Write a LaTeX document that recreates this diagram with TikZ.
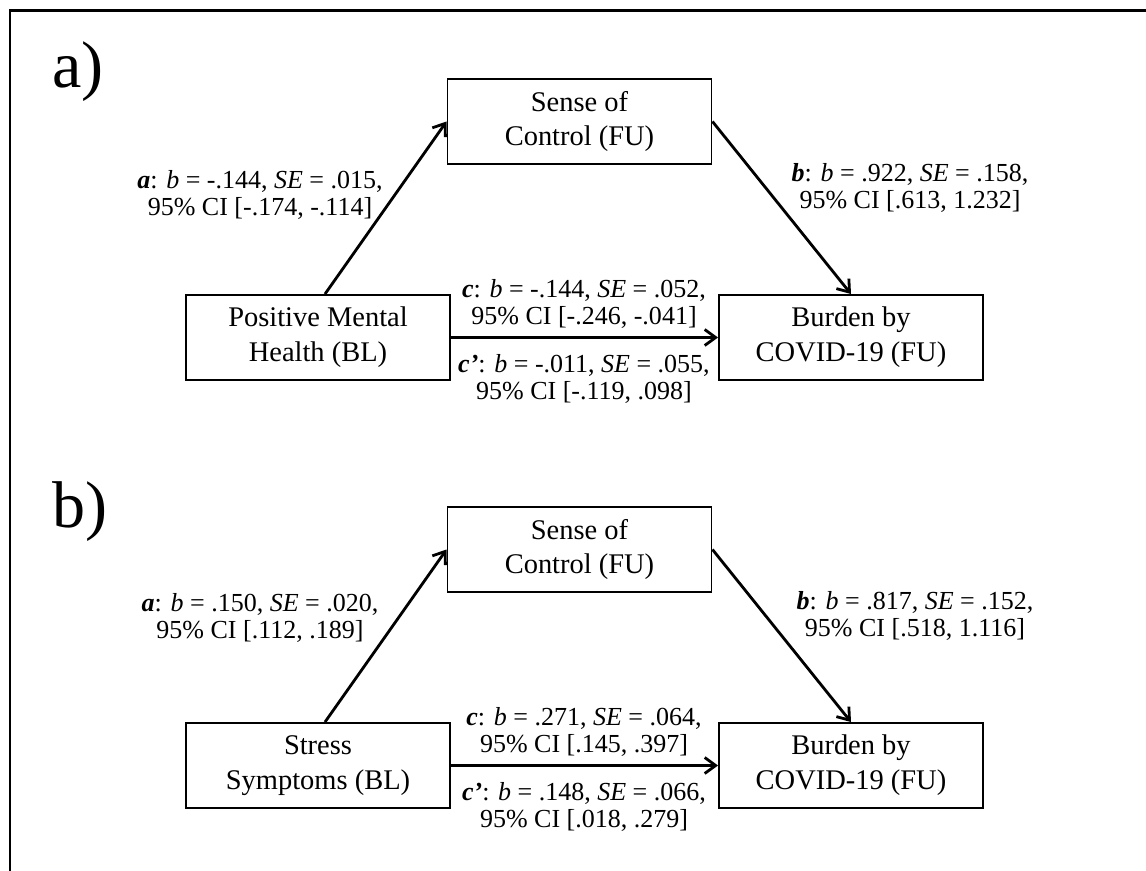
\documentclass[tikz,border=0pt]{standalone}
\usepackage{fontspec}
\setmainfont{Liberation Serif}
\usetikzlibrary{arrows.meta}
\tikzset{
  varbox/.style={draw, line width=1.1pt, minimum width=5.28cm, minimum height=1.7cm,
    inner sep=0pt, align=center, font=\fontsize{16.2}{19.9}\selectfont},
  coef/.style={inner sep=0pt, align=center, font=\fontsize{14.8}{15.9}\selectfont},
  pathline/.style={line width=1.6pt, -{Straight Barb[length=0.22cm,width=0.32cm,line width=1.6pt]}},
  panel/.style={anchor=base west, inner sep=0pt, font=\fontsize{37.6}{40}\selectfont}
}
\newcommand{\bi}[1]{\textbf{\textit{#1}}}

\begin{document}
\begin{tikzpicture}[x=0.02cm, y=-0.02cm]
  \useasboundingbox (0,0) rectangle (1146,871);
  \draw[line width=0.06cm] (10,871) -- (10,11) -- (1146,11);

  % a) positive mental health
  \node[panel] (pa) at (52,88) {a)};
  \node[varbox] (Ma) at (579.5,121.5) {Sense of\\Control (FU)};
  \node[varbox] (Xa) at (318,337.5) {Positive Mental\\Health (BL)};
  \node[varbox] (Ya) at (851,337.5) {Burden by\\COVID-19 (FU)};
  \draw[pathline] ([xshift=0.14cm]Xa.north) -- (Ma.west);
  \draw[pathline] (Ma.east) -- (Ya.north);
  \draw[pathline] (Xa) -- (Ya);
  \node[coef] (aa) at (260,195) {\bi{a}: \textit{b} = -.144, \textit{SE} = .015,\\95\% CI [-.174, -.114]};
  \node[coef] (ba) at (910,188) {\bi{b}: \textit{b} = .922, \textit{SE} = .158,\\95\% CI [.613, 1.232]};
  \node[coef] (ca) at (584,304) {\bi{c}: \textit{b} = -.144, \textit{SE} = .052,\\95\% CI [-.246, -.041]};
  \node[coef] (cpa) at (584,379) {\bi{c’}: \textit{b} = -.011, \textit{SE} = .055,\\95\% CI [-.119, .098]};

  % b) stress symptoms
  \begin{scope}[shift={(0,428)}]
    \node[panel] (pb) at (52,99) {b)};
    \node[varbox] (Mb) at (579.5,121.5) {Sense of\\Control (FU)};
    \node[varbox] (Xb) at (318,337.5) {Stress\\Symptoms (BL)};
    \node[varbox] (Yb) at (851,337.5) {Burden by\\COVID-19 (FU)};
    \draw[pathline] ([xshift=0.14cm]Xb.north) -- (Mb.west);
    \draw[pathline] (Mb.east) -- (Yb.north);
    \draw[pathline] (Xb) -- (Yb);
    \node[coef] (ab) at (260,190) {\bi{a}: \textit{b} = .150, \textit{SE} = .020,\\95\% CI [.112, .189]};
    \node[coef] (bb) at (915,188) {\bi{b}: \textit{b} = .817, \textit{SE} = .152,\\95\% CI [.518, 1.116]};
    \node[coef] (cb) at (584,304) {\bi{c}: \textit{b} = .271, \textit{SE} = .064,\\95\% CI [.145, .397]};
    \node[coef] (cpb) at (584,379) {\bi{c’}: \textit{b} = .148, \textit{SE} = .066,\\95\% CI [.018, .279]};
  \end{scope}
\end{tikzpicture}
\end{document}
